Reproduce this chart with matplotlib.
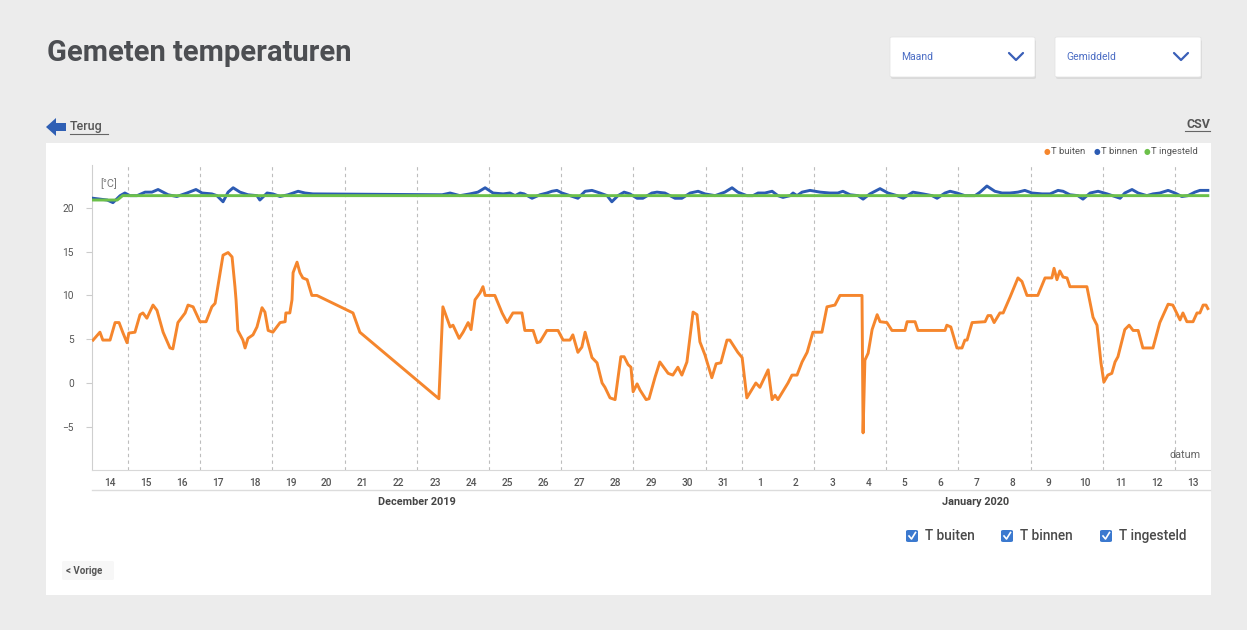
import matplotlib
matplotlib.use("Agg")
import matplotlib.pyplot as plt
import matplotlib.transforms as mtransforms
from matplotlib.patches import Rectangle, FancyBboxPatch, Polygon
from matplotlib.lines import Line2D
import pandas as pd
import numpy as np

plt.rcParams['font.family'] = ['Roboto', 'DejaVu Sans']

# ---------------- data ----------------
START = "2019-12-14 00:00"

buiten_days = [0.03, 0.22, 0.30, 0.50, 0.64, 0.75, 0.86, 0.97, 1.02, 1.19, 1.33, 1.41, 1.52, 1.69, 1.80,
               1.97, 2.16, 2.24, 2.38, 2.58, 2.66, 2.80, 2.99, 3.16, 3.32, 3.41, 3.63, 3.77, 3.88, 3.96,
               3.99, 4.04, 4.18, 4.24, 4.32, 4.46, 4.57, 4.71, 4.79, 4.88, 5.01, 5.21, 5.35, 5.37, 5.48,
               5.54, 5.57, 5.68, 5.76, 5.84, 5.96, 6.09, 6.23, 7.23, 7.42, 9.61, 9.72, 9.92, 10.00, 10.17,
               10.28, 10.42, 10.50, 10.61, 10.75, 10.83, 10.89, 11.16, 11.36, 11.50, 11.66, 11.91, 11.99,
               12.22, 12.33, 12.41, 12.60, 12.91, 13.05, 13.24, 13.32, 13.46, 13.57, 13.66, 13.85, 13.99,
               14.13, 14.21, 14.35, 14.49, 14.65, 14.74, 14.85, 14.93, 14.99, 15.10, 15.18, 15.35, 15.43,
               15.60, 15.73, 15.96, 16.09, 16.23, 16.34, 16.48, 16.65, 16.76, 16.84, 16.98, 17.17, 17.29,
               17.42, 17.59, 17.67, 17.89, 18.01, 18.14, 18.39, 18.50, 18.73, 18.84, 18.92, 19.00, 19.28,
               19.39, 19.53, 19.67, 19.81, 19.97, 20.22, 20.36, 20.58, 20.72, 21.33, 21.36, 21.41, 21.50,
               21.61, 21.75, 21.83, 22.02, 22.16, 22.52, 22.58, 22.80, 22.88, 23.63, 23.68, 23.79, 23.96,
               24.10, 24.18, 24.24, 24.38, 24.74, 24.82, 24.90, 24.99, 25.15, 25.24, 25.43, 25.65, 25.76,
               25.90, 26.20, 26.40, 26.59, 26.65, 26.73, 26.81, 26.90, 27.01, 27.09, 27.56, 27.73, 27.84,
               27.95, 28.03, 28.14, 28.25, 28.34, 28.42, 28.61, 28.73, 28.84, 28.98, 29.11, 29.39, 29.58,
               29.81, 29.94, 30.14, 30.22, 30.33, 30.50, 30.61, 30.69, 30.78, 30.86, 30.91]
buiten_temp = [4.9, 5.8, 4.9, 4.9, 6.9, 6.9, 5.7, 4.6, 5.7, 5.8, 7.8, 8.0, 7.4, 8.9, 8.3,
               5.8, 4.0, 3.9, 6.9, 8.0, 8.9, 8.7, 7.0, 7.0, 8.7, 9.1, 14.6, 14.9, 14.4, 11.0,
               9.5, 6.0, 4.9, 4.0, 5.1, 5.5, 6.4, 8.6, 8.1, 6.0, 5.8, 6.9, 7.0, 8.0, 8.0,
               9.5, 12.6, 13.8, 12.6, 12.0, 11.8, 10.0, 10.0, 8.0, 5.8, -1.8, 8.7, 6.4, 6.6, 5.1,
               5.8, 6.9, 6.1, 9.5, 10.3, 11.0, 10.0, 10.0, 8.0, 6.9, 8.0, 8.0, 6.0,
               6.0, 4.6, 4.7, 6.0, 6.0, 4.9, 4.9, 5.5, 3.5, 4.1, 5.8, 2.9, 2.3,
               0.0, -0.5, -1.7, -1.9, 3.0, 3.0, 2.1, 1.8, -1.0, -0.1, -0.8, -1.9, -1.8,
               0.7, 2.4, 1.1, 0.9, 1.8, 0.9, 2.4, 8.1, 7.8, 4.7, 3.2, 0.6, 2.2,
               2.3, 4.9, 4.9, 3.5, 2.9, -1.7, 0.0, -0.5, 1.5, -1.9, -1.4, -1.9, 0.0,
               0.9, 0.9, 2.4, 3.5, 5.8, 5.8, 8.7, 8.9, 10.0, 10.0, -5.7, 2.6, 3.4,
               6.1, 7.8, 7.0, 6.9, 6.0, 6.0, 7.0, 7.0, 6.0, 6.0, 6.6, 6.4, 4.0,
               4.0, 4.9, 4.9, 6.9, 7.0, 7.7, 7.7, 6.9, 8.0, 8.0, 9.8, 12.0, 11.6,
               10.0, 10.0, 12.0, 12.0, 13.1, 11.8, 12.8, 12.1, 12.0, 11.0, 11.0, 7.5, 6.6,
               2.3, 0.1, 0.9, 1.1, 2.4, 3.0, 6.1, 6.6, 6.0, 6.0, 4.0, 4.0, 6.9,
               9.0, 8.9, 7.2, 8.0, 7.0, 7.0, 8.0, 8.0, 8.9, 8.9, 8.5]

binnen_days = [0.03, 0.42, 0.58, 0.78, 0.91, 1.05, 1.25, 1.47, 1.66, 1.83, 1.97, 2.11, 2.35, 2.63, 2.88,
               3.05, 3.32, 3.46, 3.63, 3.77, 3.91, 4.10, 4.32, 4.57, 4.65, 4.85, 5.01, 5.21, 5.43, 5.71,
               5.90, 6.12, 9.56, 9.70, 9.92, 10.19, 10.47, 10.69, 10.89, 11.11, 11.39, 11.58, 11.72, 11.86,
               11.97, 12.19, 12.41, 12.60, 12.74, 12.88, 13.02, 13.24, 13.46, 13.66, 13.85, 14.07, 14.27,
               14.40, 14.57, 14.74, 14.90, 15.10, 15.26, 15.51, 15.65, 15.87, 16.15, 16.34, 16.57, 16.79,
               16.98, 17.26, 17.53, 17.73, 17.89, 18.14, 18.31, 18.45, 18.64, 18.84, 19.00, 19.14, 19.34,
               19.42, 19.53, 19.67, 19.89, 20.17, 20.44, 20.66, 20.80, 21.00, 21.22, 21.36, 21.55, 21.83,
               22.05, 22.30, 22.47, 22.74, 23.02, 23.27, 23.41, 23.63, 23.77, 23.96, 24.18, 24.46, 24.60,
               24.79, 25.01, 25.21, 25.43, 25.65, 25.84, 26.04, 26.32, 26.54, 26.76, 26.90, 27.09, 27.31,
               27.45, 27.65, 27.87, 28.12, 28.34, 28.48, 28.61, 28.81, 28.98, 29.22, 29.39, 29.58, 29.81,
               30.00, 30.19, 30.36, 30.55, 30.69, 30.91]
binnen_temp = [21.1, 20.9, 20.6, 21.4, 21.7, 21.4, 21.4, 21.8, 21.8, 22.1, 21.8, 21.5, 21.3, 21.7, 22.1,
               21.7, 21.6, 21.4, 20.7, 21.8, 22.3, 21.8, 21.5, 21.4, 20.9, 21.7, 21.6, 21.3, 21.5, 21.9,
               21.7, 21.6, 21.5, 21.5, 21.7, 21.4, 21.6, 21.8, 22.3, 21.7, 21.6, 21.7, 21.4, 21.7,
               21.6, 21.1, 21.5, 21.7, 21.9, 22.0, 21.7, 21.4, 21.1, 21.9, 22.0, 21.7, 21.4,
               20.7, 21.4, 21.8, 21.6, 21.1, 21.1, 21.7, 21.8, 21.7, 21.1, 21.1, 21.7, 21.9,
               21.6, 21.4, 21.8, 22.3, 21.8, 21.4, 21.4, 21.7, 21.7, 21.9, 21.4, 21.2, 21.4,
               21.7, 21.4, 21.8, 22.0, 21.8, 21.7, 21.7, 21.9, 21.5, 21.4, 21.0, 21.6, 22.2,
               21.7, 21.4, 21.1, 21.8, 21.6, 21.4, 21.1, 21.7, 21.9, 21.7, 21.4, 21.4, 21.8,
               22.5, 21.9, 21.7, 21.7, 21.8, 22.0, 21.7, 21.6, 21.6, 22.0, 21.9, 21.5, 21.4,
               21.0, 21.7, 21.9, 21.6, 21.3, 21.1, 21.7, 22.1, 21.7, 21.4, 21.6, 21.7, 22.0,
               21.7, 21.3, 21.4, 21.8, 22.0, 22.0]

ingesteld_days = [0.03, 0.70, 0.85, 30.91]
ingesteld_temp = [20.9, 20.9, 21.4, 21.4]

day_labels = [14, 15, 16, 17, 18, 19, 20, 21, 22, 23, 24, 25, 26, 27, 28, 29, 30, 31,
              1, 2, 3, 4, 5, 6, 7, 8, 9, 10, 11, 12, 13]
month_labels = ["December 2019", "January 2020"]
series_names = ["T buiten", "T binnen", "T ingesteld"]
series_colors = ["#f5862d", "#2c5bb3", "#6cc04a"]
ytick_values = [-5, 0, 5, 10, 15, 20]

# ---------------- figure ----------------
W, H = 1247, 630
fig = plt.figure(figsize=(W / 100, H / 100), dpi=100)
fig.patch.set_facecolor("#ececec")


def fx(x):
    return x / W


def fy(y):
    return 1 - y / H


def frect(x0, y0, x1, y1, zorder=1, **kw):
    fig.patches.append(
        FancyBboxPatch((fx(x0), fy(y1)), fx(x1) - fx(x0), fy(y0) - fy(y1),
                       transform=fig.transFigure, figure=fig, zorder=zorder, **kw))


# white panel (behind everything)
fig.patches.append(Rectangle((fx(46), fy(595)), fx(1211) - fx(46), fy(143) - fy(595),
                             transform=fig.transFigure, facecolor="white", edgecolor="none",
                             figure=fig, zorder=-10))

# title
fig.text(fx(47), fy(53), "Gemeten temperaturen", fontsize=21, fontweight="bold",
         color="#4c4e52", va="center", ha="left")

# dropdowns
for (x0, x1, label, chev) in [(890, 1035, "Maand", 1016), (1055, 1201, "Gemiddeld", 1181)]:
    frect(x0 + 1, 38 + 2, x1 + 1, 77 + 2, boxstyle="round,pad=0,rounding_size=0.002",
          facecolor="#d6d6d6", edgecolor="none", alpha=0.8)
    frect(x0, 37, x1, 77, boxstyle="round,pad=0,rounding_size=0.002",
          facecolor="white", edgecolor="#e2e2e2", linewidth=0.5)
    fig.text(fx(x0 + 11), fy(57), label, fontsize=7.5, color="#4a6cc4", va="center", ha="left")
    fig.lines.append(Line2D([fx(chev - 7), fx(chev), fx(chev + 7)], [fy(53), fy(60), fy(53)],
                            transform=fig.transFigure, color="#3a5fb8", linewidth=1.6,
                            solid_capstyle="round", solid_joinstyle="round", figure=fig))

# Terug arrow + link
fig.patches.append(Polygon([(fx(46), fy(127)), (fx(56), fy(118)), (fx(56), fy(123)),
                            (fx(66), fy(123)), (fx(66), fy(131)), (fx(56), fy(131)),
                            (fx(56), fy(136))], closed=True, transform=fig.transFigure,
                           facecolor="#2f5fb4", edgecolor="none", figure=fig))
fig.text(fx(70), fy(127), "Terug", fontsize=9, fontweight="medium", color="#555555",
         va="center", ha="left")
fig.lines.append(Line2D([fx(70), fx(108)], [fy(134), fy(134)], transform=fig.transFigure,
                        color="#666666", linewidth=0.8, figure=fig))
fig.text(fx(1210), fy(124), "CSV", fontsize=9, fontweight="bold", color="#555555",
         va="center", ha="right")
fig.lines.append(Line2D([fx(1185), fx(1210)], [fy(131), fy(131)], transform=fig.transFigure,
                        color="#666666", linewidth=0.8, figure=fig))

# ---------------- axes ----------------
ax = fig.add_axes([fx(92), fy(470), fx(1210) - fx(92), fy(165) - fy(470)])
ax.set_facecolor("none")
ax.set_zorder(2)

t0 = pd.Timestamp(START)


def to_time(days):
    return t0 + pd.to_timedelta(np.asarray(days), unit="D")


lw = 2.1
ax.plot(to_time(buiten_days), buiten_temp, color=series_colors[0], lw=lw, zorder=3,
        solid_joinstyle="round")
ax.plot(to_time(binnen_days), binnen_temp, color=series_colors[1], lw=lw, zorder=3,
        solid_joinstyle="round")
ax.plot(to_time(ingesteld_days), ingesteld_temp, color=series_colors[2], lw=lw, zorder=4)

xend = t0 + pd.Timedelta(days=30.97)
ax.set_xlim(t0, xend)
ax.set_ylim(-9.94, 24.9)

# day ticks (labels at noon)
noon = [t0 + pd.Timedelta(days=i, hours=12) for i in range(len(day_labels))]
ax.set_xticks(noon)
ax.set_xticklabels([str(d) for d in day_labels])
# dashed grid at midnight of odd days
mids = [d for d in pd.date_range(t0, periods=32, freq="D") if d.day % 2 == 1 and t0 < d < xend]
ax.set_xticks(mids, minor=True)
ax.grid(True, which="minor", axis="x", color="#bdbdbd", linestyle=(0, (3, 3)), linewidth=0.8)
ax.tick_params(axis="x", which="both", length=0, pad=6, labelsize=7.3, labelcolor="#555555")
for t in ax.get_xticklabels():
    t.set_fontweight("medium")

ax.set_yticks(ytick_values)
ax.tick_params(axis="y", length=4, color="#cccccc", width=0.8, pad=9, labelsize=7.3,
               labelcolor="#555555")

for s in ["top", "right"]:
    ax.spines[s].set_visible(False)
ax.spines["left"].set_color("#cfcfcf")
ax.spines["bottom"].set_color("#d8d8d8")

# lower axis line + month labels
ax.plot([0, 1], [-0.066, -0.066], transform=ax.transAxes, clip_on=False, color="#dcdcdc", lw=1)
jan1 = pd.Timestamp("2020-01-01")
month_centers = [t0 + (jan1 - t0) / 2, jan1 + (xend - jan1) / 2]
btrans = mtransforms.blended_transform_factory(ax.transData, ax.transAxes)
for c, lab in zip(month_centers, month_labels):
    ax.text(c, -0.105, lab, transform=btrans, ha="center", va="center", fontsize=7.8,
            fontweight="bold", color="#444444")

ax.text(0.007, 0.94, "[°C]", transform=ax.transAxes, fontsize=7.8, color="#777777",
        ha="left", va="center")
ax.text(0.992, 0.05, "datum", transform=ax.transAxes, fontsize=7.8, color="#666666",
        ha="right", va="center")

# top-right mini legend
leg_items = [(1047, series_names[0]), (1097, series_names[1]), (1147, series_names[2])]
for (x, name), col in zip(leg_items, series_colors):
    fig.text(fx(x), fy(152), "●", fontsize=5.5, color=col, ha="center", va="center")
    fig.text(fx(x + 4), fy(152), name, fontsize=6.8, color="#555555", ha="left", va="center")

# bottom checkbox legend
for (bx, name) in [(906, series_names[0]), (1001, series_names[1]), (1100, series_names[2])]:
    frect(bx, 530, bx + 12, 542, boxstyle="round,pad=0,rounding_size=0.002",
          facecolor="#3b79cf", edgecolor="none")
    fig.lines.append(Line2D([fx(bx + 3), fx(bx + 5.5), fx(bx + 9.5)],
                            [fy(536), fy(539), fy(532.5)], transform=fig.transFigure,
                            color="white", linewidth=1.2, figure=fig))
    fig.text(fx(bx + 19), fy(536), name, fontsize=9.8, fontweight="medium", color="#4a4a4a",
             ha="left", va="center")

# Vorige
frect(62, 561, 114, 580, boxstyle="round,pad=0,rounding_size=0.002",
      facecolor="#f7f7f7", edgecolor="none")
fig.text(fx(66), fy(571), "< Vorige", fontsize=7, fontweight="bold", color="#555555",
         ha="left", va="center")

fig.savefig("out.png", dpi=100, facecolor=fig.get_facecolor())
